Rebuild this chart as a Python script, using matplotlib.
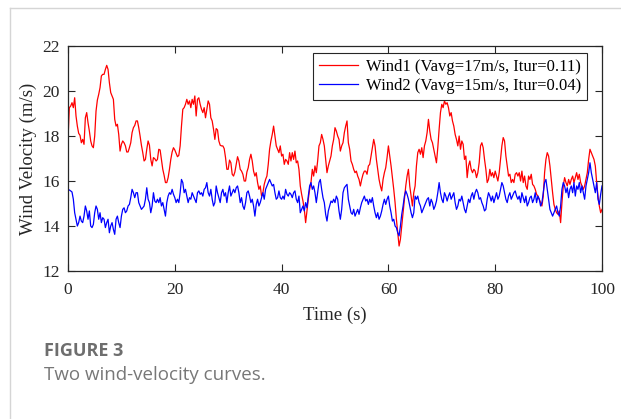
import numpy as np
import matplotlib
matplotlib.use("Agg")
import matplotlib.pyplot as plt
from matplotlib.lines import Line2D

# wind speed samples (m/s), about every 0.25 s from 0 to 100 s
wind1 = [
    17.85, 19.26, 19.33, 19.48, 19.26, 19.70, 18.89, 18.44, 18.12, 18.03, 17.70, 17.85, 17.63, 18.81, 19.04, 18.59, 18.22, 17.78,
    17.56, 17.48, 18.00, 19.11, 19.60, 19.85, 20.15, 20.67, 20.74, 20.74, 20.96, 21.14, 20.96, 20.37, 19.93, 19.78, 19.63, 18.74,
    18.44, 18.52, 18.07, 17.33, 17.63, 17.78, 17.70, 17.56, 17.29, 17.29, 17.48, 17.70, 18.15, 18.37, 18.47, 18.67, 18.67, 18.37,
    18.00, 17.59, 17.26, 16.89, 16.96, 17.41, 17.78, 17.59, 16.96, 16.67, 17.04, 16.99, 16.89, 16.96,
    17.41, 17.38, 16.96, 16.52, 16.25, 15.93, 15.93, 16.15, 16.52, 16.96, 17.29, 17.48, 17.38, 17.23, 17.08, 17.14, 17.56, 18.44,
    19.19, 19.26, 19.41, 19.63, 19.41, 19.56, 19.26, 19.63, 19.41, 19.78, 18.89, 19.63, 19.70, 19.41, 19.19, 19.04, 19.26, 18.81,
    19.19, 19.56, 19.41, 18.81, 18.67, 18.30, 17.85, 18.33, 18.27, 17.78, 17.59, 17.56, 17.56, 17.44, 17.04, 16.52, 16.52, 16.93,
    16.81, 16.30, 16.22, 16.40, 16.74, 17.08, 16.89, 16.52, 16.44, 16.30, 16.00, 16.00, 16.40, 16.59,
    16.96, 17.19, 16.89, 16.44, 16.22, 16.37, 15.93, 15.63, 15.78, 15.33, 15.48, 15.85, 16.07, 16.22, 16.74, 17.41, 17.78, 18.07,
    18.44, 18.00, 17.56, 17.41, 17.26, 17.56, 17.11, 17.19, 16.74, 16.96, 16.89, 16.74, 17.26, 16.89, 17.26, 16.96, 17.33, 16.81,
    16.89, 16.52, 15.78, 15.41, 15.11, 14.74, 14.15, 14.67, 15.19, 15.63, 15.93, 16.52, 16.22, 16.67, 16.37, 16.89, 17.56, 17.70,
    18.07, 17.85, 17.56, 16.96, 16.37, 16.67, 16.89, 17.11, 17.56, 17.85, 18.37, 18.22, 18.00,
    17.85, 17.33, 17.56, 17.70, 18.15, 18.44, 18.67, 17.70, 17.41, 16.89, 16.74, 16.52, 16.37, 16.44, 16.22, 16.07, 15.78, 16.07,
    16.30, 16.44, 16.44, 16.30, 16.67, 16.74, 17.11, 17.48, 17.85, 17.56, 16.96, 16.52, 16.07, 15.78, 15.56, 16.07, 16.37, 16.59,
    17.04, 17.56, 17.11, 16.67, 16.15, 15.63, 15.04, 14.30, 13.70, 13.11, 13.41, 14.00, 14.59, 15.19, 15.78, 16.22, 16.52, 15.78,
    15.33, 14.89, 15.48, 15.78, 16.67, 17.26, 17.41, 17.19, 17.48, 17.04, 17.56, 17.78, 18.15, 18.74,
    18.22, 17.85, 17.70, 17.41, 17.11, 16.81, 17.48, 18.30, 19.04, 19.41, 19.26, 19.56, 19.41, 19.48, 19.26, 18.89, 19.04, 18.67,
    18.44, 18.07, 17.85, 17.56, 18.00, 17.41, 17.78, 17.63, 16.96, 17.11, 16.15, 16.67, 16.89, 16.52, 16.37, 16.52, 16.44, 16.15,
    16.37, 16.81, 17.56, 17.70, 17.48, 16.96, 16.52, 15.93, 16.07, 16.52, 16.22, 16.37, 16.15, 16.44, 16.22, 16.00, 16.37, 16.96,
    17.56, 17.93, 17.78, 17.11, 16.67, 16.22, 16.30, 15.93, 16.07, 15.93, 16.30, 16.37, 16.22,
    16.37, 16.00, 16.44, 15.93, 16.22, 15.78, 15.63, 16.22, 16.07, 16.30, 15.85, 15.78, 15.63, 15.41, 15.33, 15.19, 15.04, 14.89,
    15.33, 16.37, 16.96, 17.26, 17.11, 16.67, 16.07, 15.48, 14.96, 14.74, 14.59, 14.52, 14.67, 14.15, 15.04, 15.78, 16.15, 15.93,
    15.78, 16.07, 15.85, 16.07, 16.22, 15.93, 16.15, 16.37, 16.07, 16.30, 15.93, 15.78, 15.63, 15.78, 16.07, 16.37, 16.96, 17.41,
    17.26, 17.11, 16.96, 16.67, 15.93, 15.33, 14.89, 14.59, 14.74,
]
wind2 = [
    15.63, 15.60, 15.56, 15.51, 15.19, 14.59, 14.30, 14.00, 14.15, 14.44, 14.22, 14.15, 14.44, 14.89, 14.67, 14.30, 14.67, 14.00,
    13.93, 14.07, 14.59, 14.89, 14.74, 14.30, 14.59, 14.15, 14.37, 14.30, 13.93, 14.15, 14.30, 13.70, 14.00, 14.15, 13.85, 13.63,
    14.30, 14.44, 14.15, 13.93, 14.44, 14.74, 14.81, 14.59, 14.67, 14.89, 14.96, 15.26, 15.63, 15.48, 15.26, 15.48, 15.48, 15.04,
    14.89, 14.74, 14.81, 14.89, 15.19, 15.70, 15.19, 15.04, 14.59, 14.89, 15.48, 15.11, 15.04, 15.19,
    15.04, 15.26, 14.89, 15.04, 14.74, 14.44, 15.04, 15.33, 15.48, 15.41, 15.63, 15.41, 15.26, 15.04, 15.19, 15.04, 15.48, 16.07,
    15.93, 15.48, 15.63, 15.33, 15.04, 15.26, 15.19, 15.48, 15.33, 15.19, 15.04, 15.48, 15.56, 15.41, 15.48, 15.33, 15.63, 15.70,
    15.93, 15.48, 15.33, 15.63, 15.19, 14.89, 15.04, 15.78, 15.48, 15.26, 15.04, 15.48, 15.63, 15.33, 15.48, 15.04, 15.48, 15.78,
    15.33, 15.48, 15.63, 15.48, 15.70, 15.78, 15.48, 15.04, 15.26, 14.89, 14.74, 15.04, 15.48, 15.56,
    15.33, 15.04, 15.19, 14.89, 14.44, 14.96, 15.19, 14.89, 15.04, 15.26, 15.48, 15.19, 15.63, 15.78, 15.93, 16.07, 15.93, 15.78,
    15.85, 15.48, 15.19, 15.26, 15.56, 15.26, 15.19, 15.33, 15.19, 15.63, 15.41, 15.33, 15.48, 15.41, 15.26, 15.48, 15.56, 15.19,
    15.04, 15.33, 14.59, 14.74, 14.89, 14.67, 15.04, 14.81, 15.33, 15.78, 15.93, 15.63, 15.78, 15.48, 15.04, 15.48, 15.93, 16.07,
    15.63, 15.26, 15.04, 14.52, 14.22, 14.67, 14.89, 15.11, 15.04, 15.19, 15.04, 15.33, 15.19,
    14.67, 14.30, 14.74, 15.48, 15.70, 15.78, 15.85, 15.19, 14.89, 14.59, 14.52, 14.74, 14.44, 14.59, 14.74, 14.52, 14.81, 15.04,
    15.19, 15.33, 15.11, 15.19, 14.96, 15.19, 15.04, 15.26, 14.89, 14.59, 14.37, 14.59, 14.30, 14.44, 14.67, 14.96, 15.19, 14.96,
    15.19, 15.33, 14.89, 14.59, 14.22, 14.30, 14.00, 13.93, 13.70, 13.56, 14.00, 14.52, 14.89, 15.33, 15.56, 15.41, 15.19, 14.89,
    14.59, 14.37, 14.59, 15.33, 15.19, 15.33, 15.04, 14.89, 14.59, 14.74, 14.89, 15.04, 15.19, 15.26,
    14.89, 15.19, 15.04, 14.74, 14.89, 15.11, 15.48, 15.93, 15.48, 15.19, 15.04, 15.48, 15.33, 15.11, 15.33, 15.48, 15.19, 15.33,
    15.48, 15.04, 14.74, 14.89, 15.19, 15.11, 15.33, 15.04, 14.74, 14.59, 14.89, 15.19, 15.04, 15.33, 15.48, 15.19, 15.48, 15.63,
    15.48, 15.19, 15.26, 15.04, 14.89, 14.67, 14.74, 15.19, 15.48, 15.33, 15.11, 15.33, 15.04, 15.26, 15.48, 15.19, 15.33, 15.63,
    15.93, 15.78, 15.48, 15.19, 15.04, 15.33, 15.48, 15.19, 15.33, 15.48, 15.56, 15.33, 15.19,
    15.33, 15.04, 15.48, 15.26, 15.04, 15.33, 14.89, 15.04, 15.26, 15.33, 15.04, 15.19, 15.48, 15.04, 15.33, 15.19, 14.89, 15.04,
    15.48, 15.93, 16.07, 15.63, 15.19, 14.74, 14.59, 14.44, 14.59, 14.74, 14.89, 14.59, 14.44, 14.89, 15.63, 15.93, 15.78, 15.48,
    15.70, 15.26, 15.63, 15.78, 15.48, 15.93, 15.33, 15.78, 15.63, 15.93, 15.48, 15.78, 15.48, 15.19, 15.78, 16.07, 16.37, 16.81,
    16.37, 16.07, 15.78, 15.48, 15.93, 15.19, 14.96, 15.41, 15.78,
]
labels = ["Wind1 (Vavg=17m/s, Itur=0.11)", "Wind2 (Vavg=15m/s, Itur=0.04)"]
colors = ["#ff0000", "#0000ff"]

t1 = np.linspace(0, 100, len(wind1))
t2 = np.linspace(0, 100, len(wind2))

serif = ["Liberation Serif", "DejaVu Serif"]
fig = plt.figure(figsize=(6.21, 4.19), dpi=100)
ax = fig.add_axes([0.1095, 0.3532, 0.8599, 0.537])

ax.plot(t1, wind1, color=colors[0], lw=0.9, label=labels[0])
ax.plot(t2, wind2, color=colors[1], lw=0.9, label=labels[1])

ax.set_xlim(0, 100)
ax.set_ylim(12, 22)
ax.set_xticks([0, 20, 40, 60, 80, 100])
ax.set_yticks([12, 14, 16, 18, 20, 22])
ax.tick_params(direction="in", length=5, width=0.8, top=True, right=True,
               labelsize=12.5, colors="#262626")
ax.tick_params(axis="x", pad=8)
ax.tick_params(axis="y", pad=6)
for lab in ax.get_xticklabels() + ax.get_yticklabels():
    lab.set_family(serif)
for sp in ax.spines.values():
    sp.set_linewidth(0.9)
    sp.set_color("#262626")

ax.set_xlabel("Time (s)", family=serif, fontsize=13.5, color="#262626", labelpad=6)
ax.set_ylabel("Wind Velocity (m/s)", family=serif, fontsize=13.5, color="#262626", labelpad=4)

leg = ax.legend(loc="upper right", bbox_to_anchor=(0.972, 0.97), prop={"family": serif, "size": 12},
                fancybox=False, framealpha=1, edgecolor="#262626", borderpad=0.35,
                handlelength=2.3, handletextpad=0.5, labelspacing=0.2, borderaxespad=0)
leg.get_frame().set_linewidth(0.8)

# page border and caption
fig.add_artist(Line2D([10 / 621, 1], [1 - 8 / 419, 1 - 8 / 419], color="#d5d5d5", lw=1))
fig.add_artist(Line2D([10 / 621, 10 / 621], [0, 1 - 8 / 419], color="#d5d5d5", lw=1))
fig.text(44 / 621, 1 - 351 / 419, "FIGURE 3", family="Open Sans", fontsize=13, fontweight="bold",
         color="#6e6e6e", va="center")
fig.text(44 / 621, 1 - 375 / 419, "Two wind-velocity curves.", family="Open Sans", fontsize=13.5,
         color="#777777", va="center")

fig.savefig("out.png", dpi=100)
